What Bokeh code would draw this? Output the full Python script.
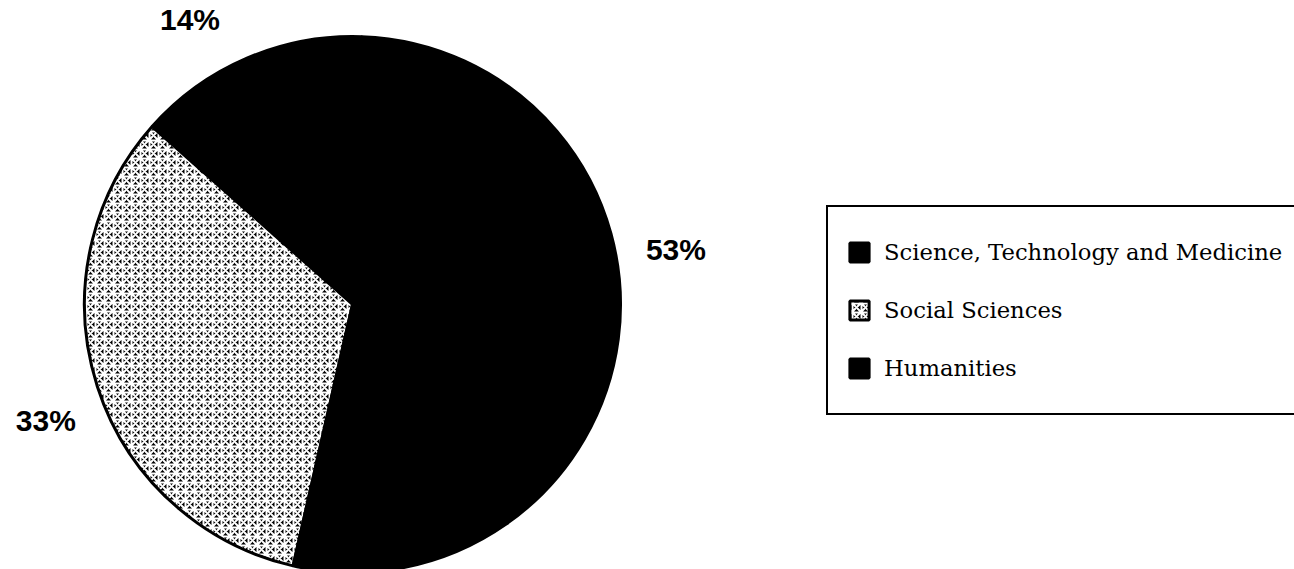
import math
from bokeh.plotting import figure
from bokeh.models import Range1d, Legend, LegendItem, ColumnDataSource
from bokeh.embed import file_html
from bokeh.resources import INLINE
from bokeh.core.properties import value

# ---- data ----
categories = ["Science, Technology and Medicine", "Social Sciences", "Humanities"]
shares = [53, 33, 14]
pct_labels = ["53%", "33%", "14%"]

# ---- style ----
fills = ["black", "black", "black"]
hatches = [" ", "criss_cross", " "]
draw_order = [2, 1, 0]          # counter-clockwise from start angle
start_deg = 88.0
label_nudge = {0: 17.0, 1: 3.0, 2: 6.5}   # degrees
label_r = 328

W, H = 1294, 569
cx, cy, R = 352, 265, 268

p = figure(width=W, height=H, output_backend="svg", toolbar_location=None,
           x_range=Range1d(0, W), y_range=Range1d(0, H), min_border=0,
           x_axis_location=None, y_axis_location=None)
p.grid.visible = False
p.outline_line_color = None
p.background_fill_color = "white"

total = sum(shares)
a = math.radians(start_deg)
renderers = {}
mids = {}
for i in draw_order:
    span = 2 * math.pi * shares[i] / total
    src = ColumnDataSource(dict(x=[cx], y=[cy], s=[a], e=[a + span]))
    r = p.wedge(x="x", y="y", radius=R, start_angle="s", end_angle="e", source=src,
                fill_color=fills[i], line_color="black", line_width=3,
                hatch_pattern=hatches[i], hatch_color="white", hatch_scale=9,
                hatch_weight=2)
    renderers[i] = r
    mids[i] = a + span / 2
    a += span

lx, ly = [], []
for i in range(len(categories)):
    ang = mids[i] + math.radians(label_nudge[i])
    lx.append(cx + label_r * math.cos(ang))
    ly.append(cy + label_r * math.sin(ang))
p.text(x=lx, y=ly, text=pct_labels, text_font=value("Liberation Sans"),
       text_font_style="bold", text_font_size="30px", text_align="center",
       text_baseline="middle", text_color="black")

items = [LegendItem(label=categories[i], renderers=[renderers[i]]) for i in range(len(categories))]
legend = Legend(items=items, location=(826, 154), orientation="vertical",
                label_text_font="DejaVu Serif", label_text_font_size="22.7px",
                label_text_color="black",
                glyph_width=24, glyph_height=24, label_height=52, spacing=6,
                padding=19, label_standoff=13, margin=0, label_width=440,
                border_line_color="black", border_line_width=2,
                border_line_alpha=1.0, background_fill_alpha=0)
p.add_layout(legend, "center")

open("out.html", "w").write(file_html(p, INLINE))
